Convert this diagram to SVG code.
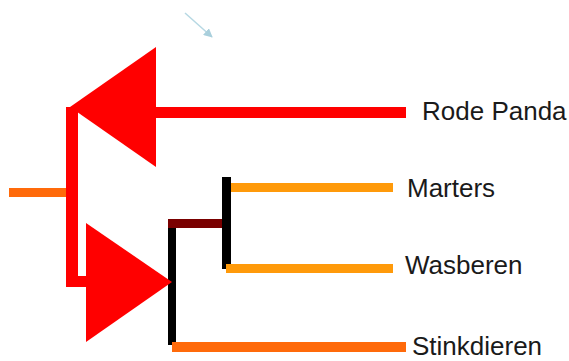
<svg xmlns="http://www.w3.org/2000/svg" width="569" height="361" viewBox="0 0 569 361">
  <defs>
    <style>
      .lbl { font-family: "Liberation Sans", Arial, sans-serif; font-size: 26px; fill: #1a1a1a; }
      .tri { fill: #FF0000; }
    </style>
    <marker id="ah" viewBox="0 0 10 10" refX="9" refY="5" markerWidth="6" markerHeight="6" orient="auto">
      <path d="M0,0 L10,5 L0,10 z" fill="#a9cfdc"/>
    </marker>
  </defs>
  <rect width="569" height="361" fill="#ffffff"/>
  <g id="connectors">
    <!-- root stub -->
    <rect x="9" y="188" width="59" height="9" fill="#FF6A0A"/>
    <!-- red vertical and foot -->
    <rect x="66" y="107" width="12" height="180" fill="#FF0000"/>
    <rect x="66" y="276" width="22" height="11" fill="#FF0000"/>
    <!-- Rode Panda branch -->
    <rect x="150" y="107" width="256" height="11" fill="#FF0000"/>
    <!-- black vertical (lower clade) -->
    <rect x="168" y="227" width="8" height="118" fill="#000000"/>
    <!-- dark red horizontal -->
    <rect x="168" y="219" width="55" height="9" fill="#7A0000"/>
    <!-- black vertical (upper sub clade) -->
    <rect x="222" y="177" width="9" height="92" fill="#000000"/>
    <!-- Marters -->
    <rect x="231" y="183" width="162" height="9" fill="#FF9A0A"/>
    <!-- Wasberen -->
    <rect x="226" y="264" width="167" height="9" fill="#FF9A0A"/>
    <!-- Stinkdieren -->
    <rect x="172" y="342" width="234" height="10" fill="#FF6A0A"/>
    <!-- faint arrow -->
    <line x1="185" y1="13" x2="212" y2="37" stroke="#b7d8e3" stroke-width="1.5" marker-end="url(#ah)"/>
  </g>
  <g id="tri-top">
    <polygon class="tri" points="70,107 156,47 156,167"/>
  </g>
  <g id="tri-bottom">
    <polygon class="tri" points="86,223 172,282 86,342"/>
  </g>
  <g id="node-rode-panda">
    <text class="lbl" x="422" y="120">Rode Panda</text>
  </g>
  <g id="node-marters">
    <text class="lbl" x="407" y="197">Marters</text>
  </g>
  <g id="node-wasberen">
    <text class="lbl" x="405" y="274">Wasberen</text>
  </g>
  <g id="node-stinkdieren">
    <text class="lbl" x="412" y="355">Stinkdieren</text>
  </g>
</svg>
